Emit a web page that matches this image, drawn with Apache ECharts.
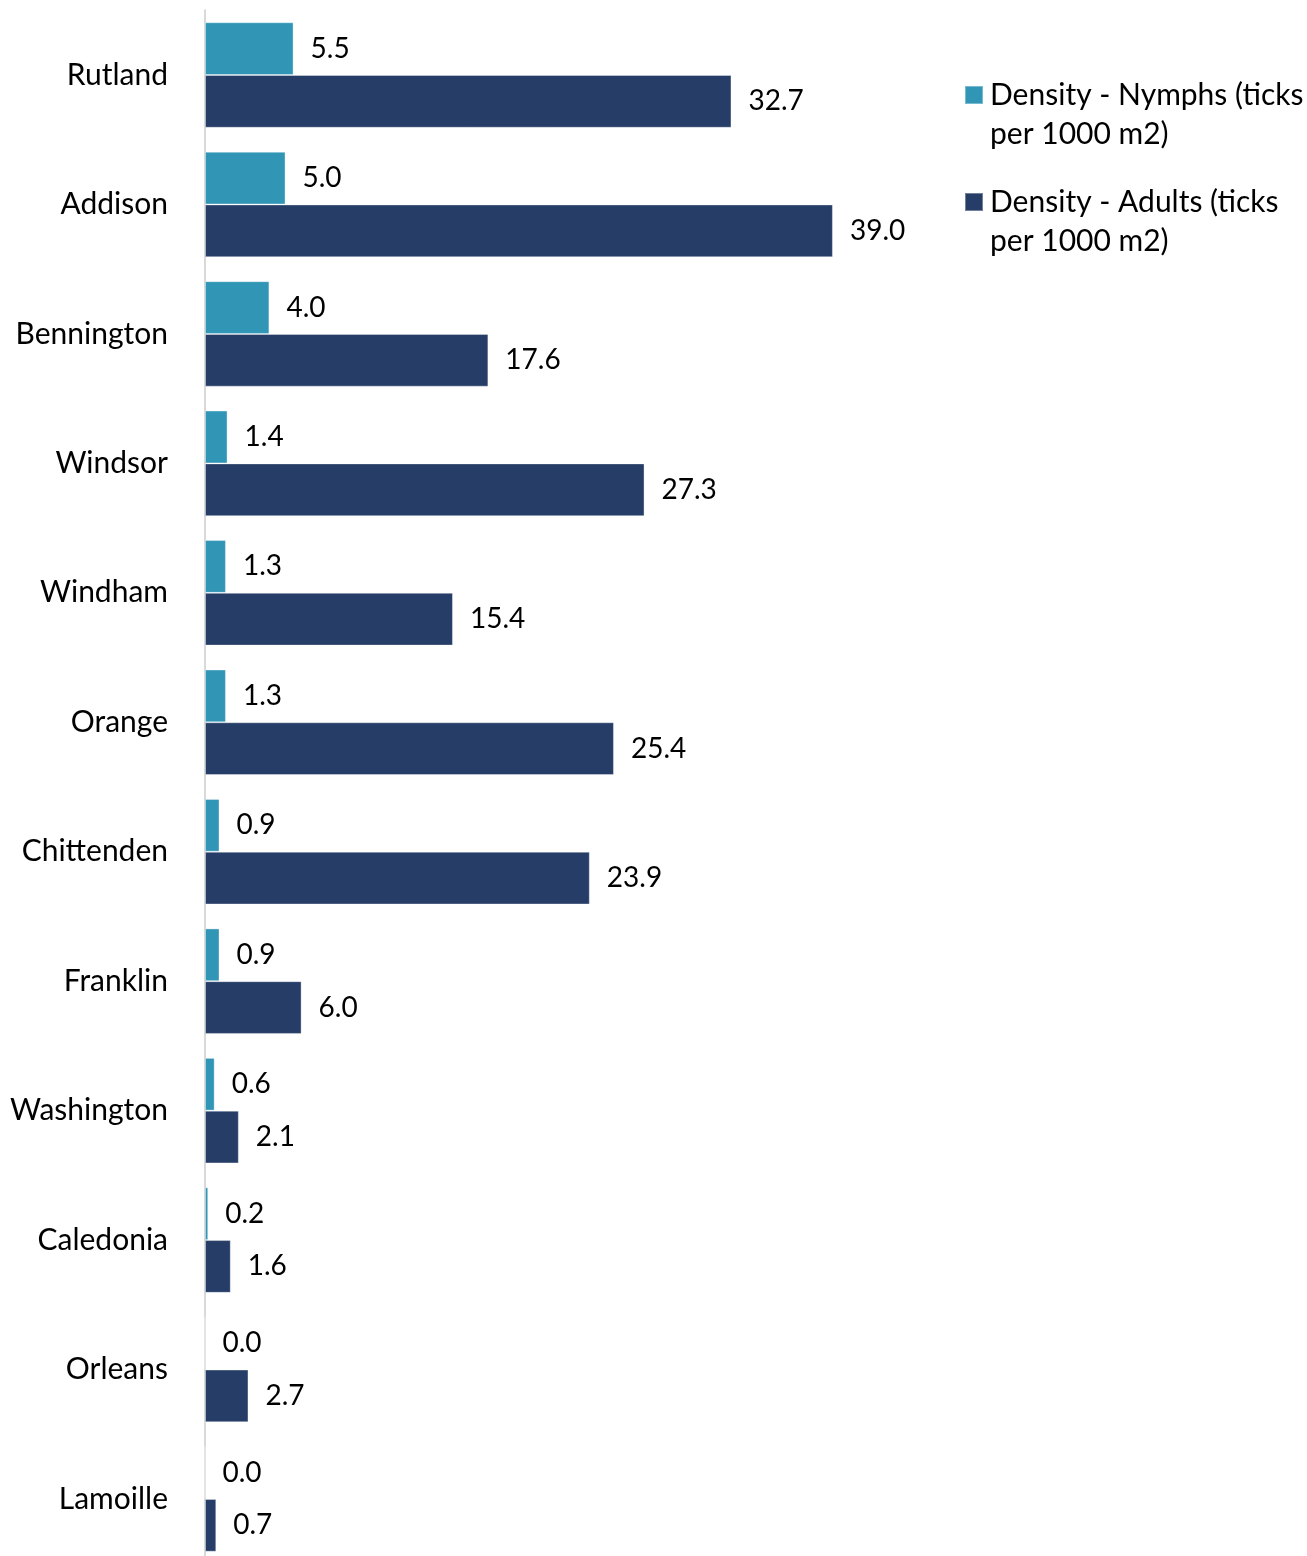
<!DOCTYPE html>
<html><head><meta charset="utf-8">
<script src="https://cdn.jsdelivr.net/npm/echarts@6/dist/echarts.min.js"></script>
<style>html,body{margin:0;padding:0;overflow:hidden;background:#fff}#c{width:1307px;height:1556px}</style>
</head><body><div id="c"></div>
<script>
var counties = ['Rutland','Addison','Bennington','Windsor','Windham','Orange','Chittenden','Franklin','Washington','Caledonia','Orleans','Lamoille'];
var nymphs = [5.5, 5.0, 4.0, 1.4, 1.3, 1.3, 0.9, 0.9, 0.6, 0.2, 0.0, 0.0];
var adults = [32.7, 39.0, 17.6, 27.3, 15.4, 25.4, 23.9, 6.0, 2.1, 1.6, 2.7, 0.7];
var seriesNames = ['Density - Nymphs (ticks per 1000 m2)', 'Density - Adults (ticks per 1000 m2)'];

var FONT = 'Lato';
var chart = echarts.init(document.getElementById('c'), null, {renderer:'canvas'});
var lbl = {show:true, position:'right', distance:17, color:'#000', fontFamily:FONT, fontSize:28,
  formatter:function(p){return p.value.toFixed(1);}};
chart.setOption({
  animation:false,
  textStyle:{fontFamily:FONT},
  legend:{
    orient:'vertical', left:964, top:36.5, padding:0, itemWidth:18, itemHeight:18, itemGap:-10,
    icon:'rect',
    textStyle:{fontFamily:FONT, fontSize:30, color:'#000', lineHeight:39, padding:[0,0,0,2]},
    formatter:function(n){return '\n' + n.replace(' (ticks per', ' (ticks\nper');},
    data:seriesNames
  },
  grid:{left:205, top:10.3, width:805, height:1553.4, outerBoundsMode:'none', containLabel:false},
  xAxis:{type:'value', min:0, max:50, show:false},
  yAxis:{type:'category', data:counties, inverse:true,
    axisLine:{lineStyle:{color:'#d9d9d9', width:2}},
    axisTick:{show:false},
    axisLabel:{color:'#000', fontFamily:FONT, fontSize:30, margin:37}},
  series:[
    {name:seriesNames[0], type:'bar', data:nymphs, barGap:'0%', barCategoryGap:'18.5%',
     itemStyle:{color:'#3195b6', borderColor:'rgba(255,255,255,0.35)', borderWidth:1}, label:lbl},
    {name:seriesNames[1], type:'bar', data:adults, barGap:'0%', barCategoryGap:'18.5%',
     itemStyle:{color:'#253d67', borderColor:'rgba(255,255,255,0.35)', borderWidth:1}, label:lbl}
  ]
});
</script></body></html>
